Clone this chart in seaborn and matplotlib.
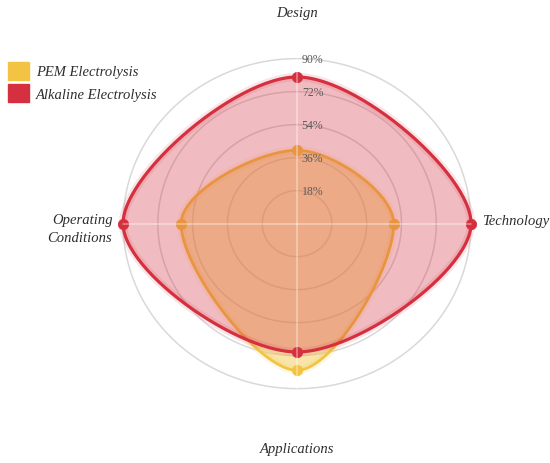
import numpy as np
import pandas as pd
import matplotlib
matplotlib.use("Agg")
import matplotlib.pyplot as plt
import seaborn as sns
from matplotlib.patches import Patch

# chart data
categories = ["Design", "Technology", "Applications", "Operating\nConditions"]
pem = [40, 50, 80, 60]
alkaline = [80, 90, 70, 90]
ring_ticks = [18, 36, 54, 72, 90]
tick_labels = ["18%", "36%", "54%", "72%", "90%"]
series_names = ["PEM Electrolysis", "Alkaline Electrolysis"]
series_colors = ["#F3C443", "#D5303F"]

sns.set_theme(style="white")
plt.rcParams['font.family'] = ['Liberation Serif', 'DejaVu Serif']

# angles: Design on top, going clockwise
angles = np.pi / 2 - np.arange(len(categories)) * 2 * np.pi / len(categories)


def to_xy(values):
    v = np.asarray(values, dtype=float)
    return v * np.cos(angles), v * np.sin(angles)


def smooth_closed(xs, ys, tension=0.35, steps=60):
    # chart.js-like spline through closed polygon
    n = len(xs)
    pts = np.column_stack([xs, ys])
    cp_prev, cp_next = [], []
    for i in range(n):
        p0, p1, p2 = pts[i - 1], pts[i], pts[(i + 1) % n]
        d01 = np.hypot(*(p1 - p0))
        d12 = np.hypot(*(p2 - p1))
        s01 = d01 / (d01 + d12)
        s12 = d12 / (d01 + d12)
        cp_prev.append(p1 - tension * s01 * (p2 - p0))
        cp_next.append(p1 + tension * s12 * (p2 - p0))
    t = np.linspace(0, 1, steps)[:, None]
    out = []
    for i in range(n):
        a, b, c, d = pts[i], cp_next[i], cp_prev[(i + 1) % n], pts[(i + 1) % n]
        seg = (1 - t) ** 3 * a + 3 * (1 - t) ** 2 * t * b + 3 * (1 - t) * t ** 2 * c + t ** 3 * d
        out.append(seg)
    out = np.vstack(out)
    return out[:, 0], out[:, 1]


fig = plt.figure(figsize=(5.5, 4.64), dpi=100)
ax = fig.add_axes([103.7 / 550, 56 / 464, 386.7 / 550, 366.7 / 464])
ax.set_xlim(-100, 100)
ax.set_ylim(-100, 100)
ax.set_aspect('auto')
ax.axis('off')

# grid rings
circ = np.linspace(0, 2 * np.pi, 300)
for r in ring_ticks:
    ax.plot(r * np.cos(circ), r * np.sin(circ), color="#d9d9d9", lw=1.1, zorder=1)

# series (PEM below, alkaline drawn on top)
z = 2
for name, vals, col, lw, alpha in zip(series_names, [pem, alkaline], series_colors,
                                      [2.0, 2.3], [0.45, 0.32]):
    x, y = to_xy(vals)
    sx, sy = smooth_closed(x, y)
    ax.fill(sx, sy, color=col, alpha=alpha, lw=0, zorder=z)
    ax.plot(sx, sy, color=col, lw=6, alpha=0.12, zorder=z + 0.1, solid_capstyle='round')
    ax.plot(sx, sy, color=col, lw=lw, zorder=z + 0.2)
    df = pd.DataFrame({"x": x, "y": y})
    sns.scatterplot(data=df, x="x", y="y", color=col, s=55, edgecolor=col,
                    zorder=z + 0.3, ax=ax, legend=False)
    z += 1

# spokes
for a in angles:
    ax.plot([0, 90 * np.cos(a)], [0, 90 * np.sin(a)], color="white", lw=1.2,
            alpha=0.4, zorder=4.5)

# ring labels
for r, lab in zip(ring_ticks, tick_labels):
    ax.text(8, r, lab, ha="center", va="center", fontsize=8.5, color="#5a5a5a", zorder=6)

# category labels
lab_font = dict(fontsize=10.5, style="italic", color="#2e2e2e")
ax.text(0, 115, categories[0], ha="center", va="center", **lab_font)
ax.text(95.5, 1.6, categories[1], ha="left", va="center", **lab_font)
ax.text(0, -122.7, categories[2], ha="center", va="center", **lab_font)
ax.text(-95.5, -2.7, categories[3], ha="right", va="center", multialignment="right",
        linespacing=1.5, **lab_font)

handles = [Patch(facecolor=c, edgecolor=c) for c in series_colors]
fig.legend(handles, series_names, loc="upper left", bbox_to_anchor=(-0.01, 0.893),
           frameon=False, handlelength=1.45, handleheight=1.5, handletextpad=0.5,
           labelspacing=0.3, prop=dict(style="italic", size=10.5))
for t in fig.legends[0].get_texts():
    t.set_color("#2e2e2e")

fig.savefig("out.png", dpi=100)
